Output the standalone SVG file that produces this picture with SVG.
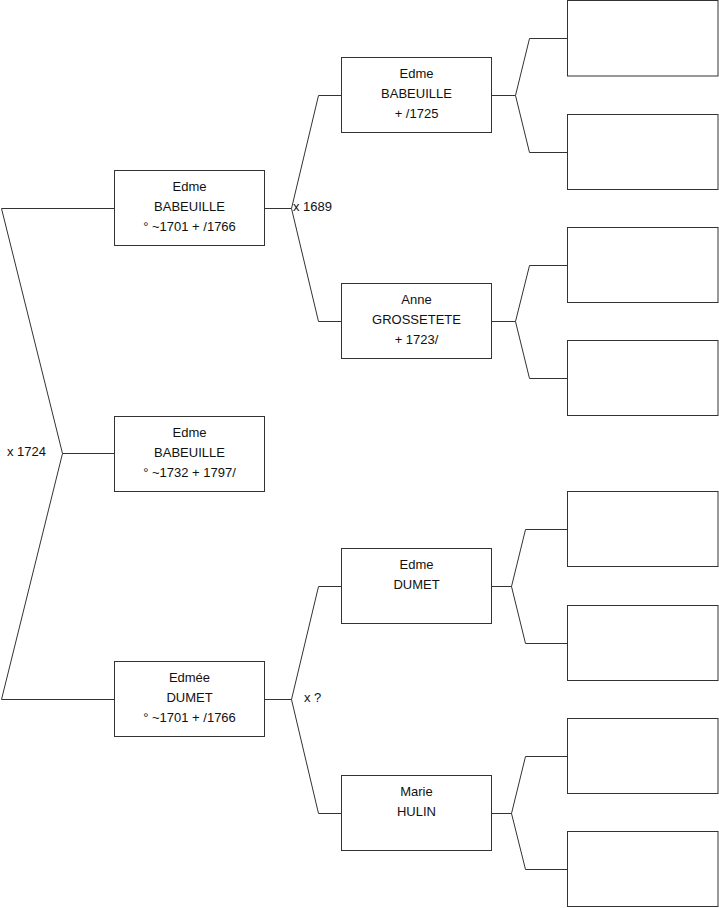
<svg xmlns="http://www.w3.org/2000/svg" width="719" height="908" viewBox="0 0 719 908">
<style>
.box{fill:#fff;stroke:#333;stroke-width:1}
.c{fill:none;stroke:#333;stroke-width:1}
text{font-family:"Liberation Sans",Arial,sans-serif;font-size:13px;fill:#111}
.m{text-anchor:middle}
</style>
<rect width="719" height="908" fill="#fff"/>
<g id="connectors">
<path class="c" d="M1.5,208.5H114.5M1.5,208.5L62.5,453.5L1.5,699.5H114.5M62.5,453.5H114.5"/>
<path class="c" d="M265,208.5H291.5L318.5,95.5H341M291.5,208.5L318.5,321.5H341"/>
<path class="c" d="M265,699.5H291.5L318.5,586.5H341M291.5,699.5L318.5,813.5H341"/>
<path class="c" d="M491,95.5H515.5L529.5,38.5H567M515.5,95.5L529.5,152.5H567"/>
<path class="c" d="M491,321.5H515.5L529.5,265.5H567M515.5,321.5L529.5,378.5H567"/>
<path class="c" d="M491,586.5H511.5L525.5,529.5H567M511.5,586.5L525.5,643.5H567"/>
<path class="c" d="M491,813.5H511.5L525.5,756.5H567M511.5,813.5L525.5,869.5H567"/>
<text x="7" y="456">x 1724</text>
<text x="293" y="211">x 1689</text>
<text x="304" y="702">x ?</text>
</g>
<g id="n_root"><rect class="box" x="114.5" y="416.5" width="150" height="75"/>
<text class="m" x="189.5" y="437">Edme</text><text class="m" x="189.5" y="457">BABEUILLE</text><text class="m" x="189.5" y="477">° ~1732 + 1797/</text></g>
<g id="n_father"><rect class="box" x="114.5" y="170.5" width="150" height="75"/>
<text class="m" x="189.5" y="191">Edme</text><text class="m" x="189.5" y="211">BABEUILLE</text><text class="m" x="189.5" y="231">° ~1701 + /1766</text></g>
<g id="n_mother"><rect class="box" x="114.5" y="661.5" width="150" height="75"/>
<text class="m" x="189.5" y="682">Edmée</text><text class="m" x="189.5" y="702">DUMET</text><text class="m" x="189.5" y="722">° ~1701 + /1766</text></g>
<g id="n_ff"><rect class="box" x="341.5" y="57.5" width="150" height="75"/>
<text class="m" x="416.5" y="78">Edme</text><text class="m" x="416.5" y="98">BABEUILLE</text><text class="m" x="416.5" y="118">+ /1725</text></g>
<g id="n_fm"><rect class="box" x="341.5" y="283.5" width="150" height="75"/>
<text class="m" x="416.5" y="304">Anne</text><text class="m" x="416.5" y="324">GROSSETETE</text><text class="m" x="416.5" y="344">+ 1723/</text></g>
<g id="n_mf"><rect class="box" x="341.5" y="548.5" width="150" height="75"/>
<text class="m" x="416.5" y="569">Edme</text><text class="m" x="416.5" y="589">DUMET</text></g>
<g id="n_mm"><rect class="box" x="341.5" y="775.5" width="150" height="75"/>
<text class="m" x="416.5" y="796">Marie</text><text class="m" x="416.5" y="816">HULIN</text></g>
<g id="n_fff"><rect class="box" x="567.5" y="0.5" width="150.5" height="75.5"/></g>
<g id="n_ffm"><rect class="box" x="567.5" y="114.5" width="150.5" height="75"/></g>
<g id="n_fmf"><rect class="box" x="567.5" y="227.5" width="150.5" height="75"/></g>
<g id="n_fmm"><rect class="box" x="567.5" y="340.5" width="150.5" height="75"/></g>
<g id="n_mff"><rect class="box" x="567.5" y="491.5" width="150.5" height="75"/></g>
<g id="n_mfm"><rect class="box" x="567.5" y="605.5" width="150.5" height="75"/></g>
<g id="n_mmf"><rect class="box" x="567.5" y="718.5" width="150.5" height="75"/></g>
<g id="n_mmm"><rect class="box" x="567.5" y="831.5" width="150.5" height="75"/></g>
</svg>
